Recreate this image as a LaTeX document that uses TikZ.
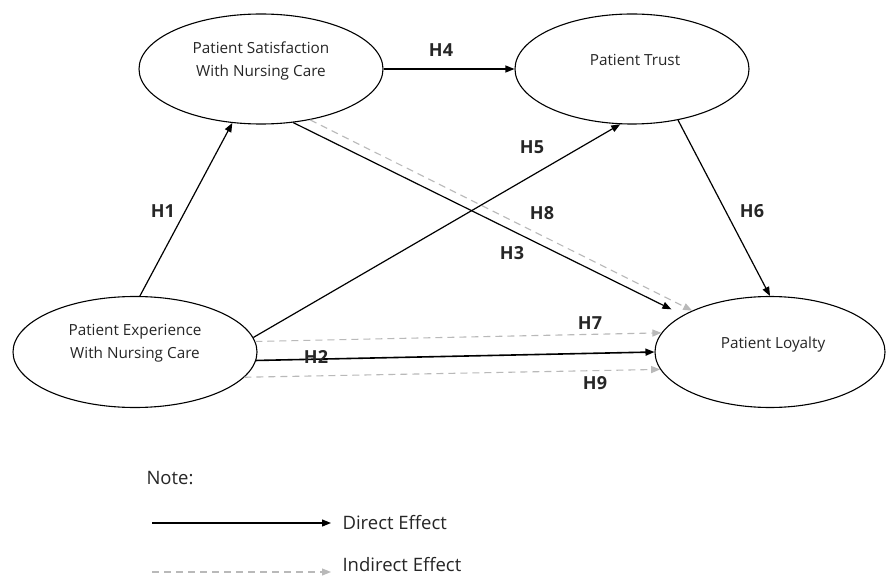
\documentclass[tikz,border=0pt]{standalone}
\usepackage{fontspec}
\setmainfont{Open Sans}
\usetikzlibrary{shapes.geometric,arrows.meta}
\definecolor{indgray}{RGB}{185,185,185}
\begin{document}
\begin{tikzpicture}[x=1pt,y=-1pt,
  construct/.style={draw=black,line width=1.1pt,ellipse,inner sep=0pt},
  ctext/.style={align=center,font=\fontsize{15.3}{23}\selectfont,text=black!85},
  hlab/.style={font=\fontsize{18}{20}\selectfont\bfseries,text=black!85},
  direct/.style={draw=black,line width=1.2pt,-{Triangle[length=9pt,width=7pt]}},
  indirect/.style={draw=indgray,line width=1.1pt,dash pattern=on 7pt off 5pt,-{Triangle[length=9pt,width=7pt]}},
  legtext/.style={font=\fontsize{18.5}{20}\selectfont,text=black!85,anchor=west}]
\useasboundingbox[fill=white] (0,0) rectangle (888,577);

% constructs
\node[construct,minimum width=244pt,minimum height=110pt] (S) at (261,69) {};
\node[construct,minimum width=234pt,minimum height=110pt] (T) at (632,69) {};
\node[construct,minimum width=244pt,minimum height=111pt] (E) at (135,352) {};
\node[construct,minimum width=230pt,minimum height=111pt] (L) at (770,352) {};

\node[ctext] (St) at (261,61) {Patient Satisfaction\\With Nursing Care};
\node[ctext] (Tt) at (635,60) {Patient Trust};
\node[ctext] (Et) at (135,343) {Patient Experience\\With Nursing Care};
\node[ctext] (Lt) at (773,345) {Patient Loyalty};

% indirect effects
\draw[indirect] (S.-46) -- (L.152);
\draw[indirect] (E.5) -- (L.170);
\draw[indirect] (E.-13) -- (L.189);

% direct effects
\draw[direct] (E.85) -- (S.-118);
\draw[direct] (S.east) -- (T.west);
\draw[direct] (E.7) -- (T.-102);
\draw[direct,shorten >=13pt] (S.-59) -- (L.157);
\draw[direct] (T.-48) -- (L.north);
\draw[direct,line width=1.6pt] (E.-4) -- (L.west);

% labels
\node[hlab] (h1) at (163,211) {H1};
\node[hlab] (h2) at (316,357) {H2};
\node[hlab] (h3) at (512,253) {H3};
\node[hlab] (h4) at (441,50) {H4};
\node[hlab] (h5) at (532,147) {H5};
\node[hlab] (h6) at (752,211) {H6};
\node[hlab] (h7) at (590,323) {H7};
\node[hlab] (h8) at (542,213) {H8};
\node[hlab] (h9) at (595,383) {H9};

% legend
\node[legtext] (note) at (143,478) {Note:};
\coordinate (d1) at (152,523);
\coordinate (d2) at (331,523);
\coordinate (i1) at (152,572);
\coordinate (i2) at (331,572);
\draw[direct] (d1) -- (d2);
\draw[indirect] (i1) -- (i2);
\node[legtext] (dl) at (339,523) {Direct Effect};
\node[legtext] (il) at (339,565) {Indirect Effect};
\end{tikzpicture}
\end{document}
